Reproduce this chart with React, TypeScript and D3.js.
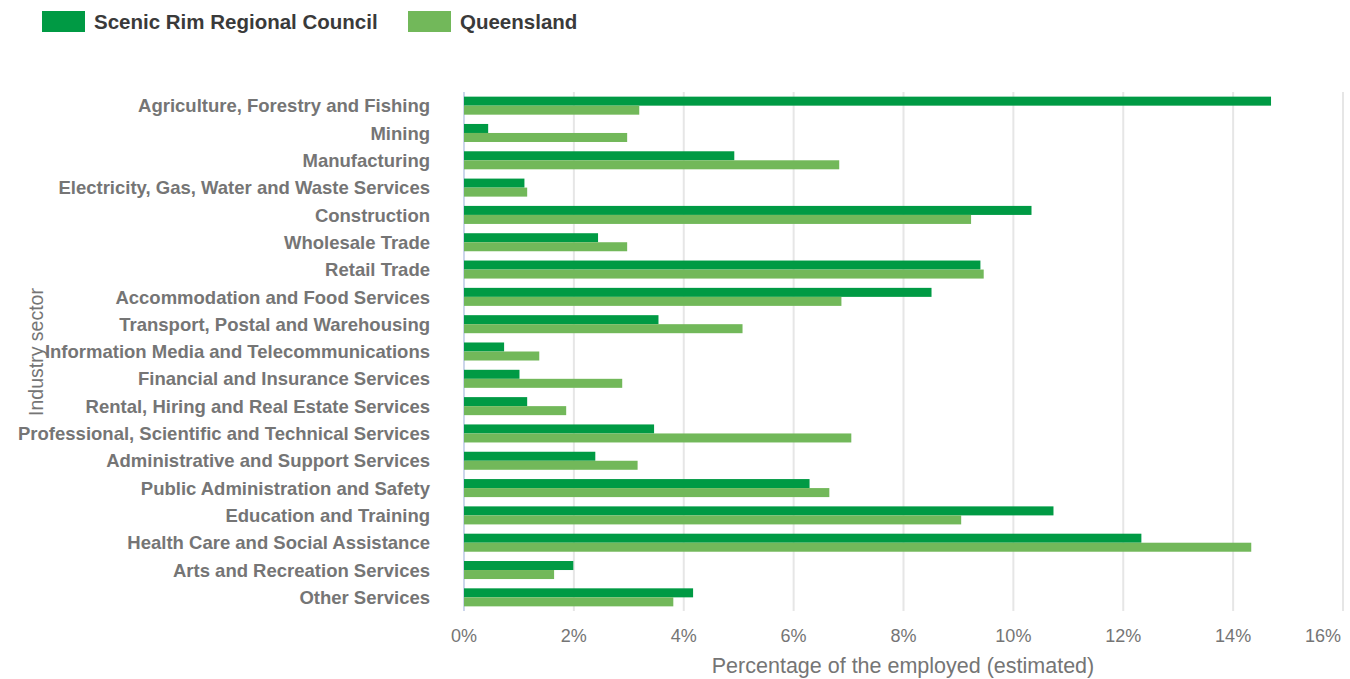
import React from "react";
import * as d3 from "d3";

const categories = [
  "Agriculture, Forestry and Fishing",
  "Mining",
  "Manufacturing",
  "Electricity, Gas, Water and Waste Services",
  "Construction",
  "Wholesale Trade",
  "Retail Trade",
  "Accommodation and Food Services",
  "Transport, Postal and Warehousing",
  "Information Media and Telecommunications",
  "Financial and Insurance Services",
  "Rental, Hiring and Real Estate Services",
  "Professional, Scientific and Technical Services",
  "Administrative and Support Services",
  "Public Administration and Safety",
  "Education and Training",
  "Health Care and Social Assistance",
  "Arts and Recreation Services",
  "Other Services",
];

const scenicRim = [14.69, 0.44, 4.92, 1.1, 10.33, 2.44, 9.4, 8.51, 3.54, 0.73, 1.01, 1.15, 3.46, 2.39, 6.29, 10.73, 12.33, 1.99, 4.17];
const queensland = [3.19, 2.97, 6.83, 1.15, 9.23, 2.97, 9.46, 6.87, 5.07, 1.37, 2.88, 1.86, 7.05, 3.16, 6.65, 9.05, 14.33, 1.64, 3.81];

const xTicks = [0, 2, 4, 6, 8, 10, 12, 14, 16];
const seriesNames = ["Scenic Rim Regional Council", "Queensland"];
const colors = ["#009a44", "#72b85a"];

export default function App() {
  const W = 1350, H = 679;
  const left = 464, right = 1343, top = 92, bottom = 611;
  const x = d3.scaleLinear().domain([0, 16]).range([left, right]);
  const y = d3.scaleBand<string>().domain(categories).range([top, bottom]).paddingInner(0.34).paddingOuter(0.17);
  const sub = d3.scaleBand<number>().domain([0, 1]).range([0, y.bandwidth()]);
  const series = [scenicRim, queensland];
  const labelFont = "'Liberation Sans', Arial, sans-serif";

  return (
    <svg width={W} height={H} style={{ position: "absolute", left: 0, top: 0, background: "#fff" }}>
      {/* gridlines */}
      {xTicks.map((t) => (
        <line key={"g" + t} x1={x(t)} x2={x(t)} y1={top} y2={bottom} stroke={t === 0 ? "#ccd6eb" : "#e6e6e6"} strokeWidth={2} />
      ))}
      {/* bars */}
      {series.map((vals, si) =>
        categories.map((c, i) => (
          <rect
            key={si + "-" + i}
            x={x(0)}
            y={(y(c) as number) + (sub(si) as number)}
            width={x(vals[i]) - x(0)}
            height={sub.bandwidth()}
            fill={colors[si]}
          />
        ))
      )}
      {/* category labels */}
      {categories.map((c) => (
        <text
          key={"l" + c}
          x={430}
          y={(y(c) as number) + y.bandwidth() / 2}
          dy="0.36em"
          textAnchor="end"
          fontFamily={labelFont}
          fontWeight="bold"
          fontSize={18.5}
          fill="#757575"
        >
          {c}
        </text>
      ))}
      {/* x tick labels */}
      {xTicks.map((t, i) => {
        const last = i === xTicks.length - 1;
        return (
          <text
            key={"t" + t}
            x={last ? 1341 : x(t)}
            y={642}
            textAnchor={last ? "end" : "middle"}
            fontFamily={labelFont}
            fontSize={18}
            fill="#757575"
          >
            {t + "%"}
          </text>
        );
      })}
      <text x={903} y={673} textAnchor="middle" fontFamily={labelFont} fontSize={21.5} fill="#757575">
        Percentage of the employed (estimated)
      </text>
      <text
        transform={`translate(43,352) rotate(-90)`}
        textAnchor="middle"
        fontFamily={labelFont}
        fontSize={19.5}
        fill="#757575"
      >
        Industry sector
      </text>
      {/* legend */}
      {seriesNames.map((n, i) => {
        const lx = i === 0 ? 42 : 408;
        return (
          <g key={"lg" + i}>
            <rect x={lx} y={11} width={43} height={21} fill={colors[i]} />
            <text x={lx + 52} y={29} fontFamily={labelFont} fontWeight="bold" fontSize={20.5} fill="#3a3a3a">
              {n}
            </text>
          </g>
        );
      })}
    </svg>
  );
}
